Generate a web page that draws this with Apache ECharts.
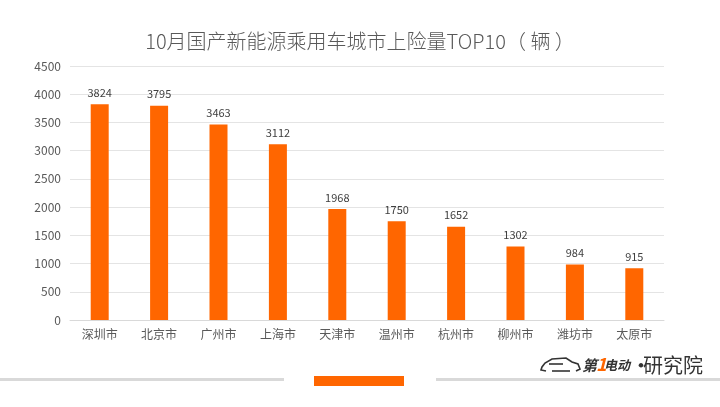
<!DOCTYPE html>
<html><head><meta charset="utf-8">
<script src="https://cdn.jsdelivr.net/npm/echarts@6/dist/echarts.min.js"></script>
<style>html,body{margin:0;padding:0;background:#fff}#c{width:720px;height:407px}</style>
</head><body><div id="c"></div>
<script>
const titleText = '10月国产新能源乘用车城市上险量TOP10（ 辆 ）';
const cities = ['深圳市','北京市','广州市','上海市','天津市','温州市','杭州市','柳州市','潍坊市','太原市'];
const values = [3824,3795,3463,3112,1968,1750,1652,1302,984,915];
const yTicks = [0,500,1000,1500,2000,2500,3000,3500,4000,4500];

const FONT = '"Noto Sans CJK SC","Microsoft YaHei",sans-serif';
const chart = echarts.init(document.getElementById('c'), null, {renderer:'canvas'});
chart.setOption({
  backgroundColor:'#fff',
  animation:false,
  title:{text:titleText,left:'center',top:26,textStyle:{fontFamily:FONT,fontSize:20,fontWeight:300,color:'#595959'}},
  grid:{left:70,right:56,top:66,bottom:87},
  xAxis:{type:'category',data:cities,
    axisLine:{lineStyle:{color:'#d9d9d9'}},axisTick:{show:false},
    axisLabel:{fontFamily:FONT,fontSize:12,color:'#595959',margin:8}},
  yAxis:{type:'value',min:yTicks[0],max:yTicks[yTicks.length-1],interval:500,
    axisLine:{show:false},axisTick:{show:false},
    splitLine:{lineStyle:{color:'#e4e4e4'}},
    axisLabel:{fontFamily:FONT,fontSize:12,color:'#595959',margin:9,formatter:v=>String(v)}},
  series:[{type:'bar',data:values,barWidth:18,
    itemStyle:{color:'#FF6600'},
    label:{show:true,position:'top',fontFamily:FONT,fontSize:11,color:'#404040',distance:6}}],
  graphic:[
    {type:'rect',shape:{x:0,y:378,width:284,height:3},style:{fill:'#d9d9d9'},silent:true},
    {type:'rect',shape:{x:436,y:378,width:284,height:3},style:{fill:'#d9d9d9'},silent:true},
    {type:'rect',shape:{x:314,y:376,width:90,height:10},style:{fill:'#FF6600'},silent:true},
    {type:'polyline',shape:{points:[[546,371],[541,370],[542,367],[545,363],[552,359],[566,358],[572,362],[578,364],[580,369],[576,371]]},
      style:{fill:'none',stroke:'#333',lineWidth:1.6},silent:true},
    {type:'line',shape:{x1:552,y1:371,x2:570,y2:371},style:{stroke:'#333',lineWidth:1.6},silent:true},
    {type:'line',shape:{x1:549,y1:364,x2:563,y2:364},style:{stroke:'#333',lineWidth:1.6},silent:true},
    {type:'text',style:{text:'第',x:582,y:365,fontFamily:FONT,fontSize:15,fontWeight:'bold',fontStyle:'italic',fill:'#333',textVerticalAlign:'middle'},silent:true},
    {type:'text',style:{text:'1',x:596,y:364,fontFamily:FONT,fontSize:18,fontWeight:'bold',fontStyle:'italic',fill:'#FF6600',textVerticalAlign:'middle'},silent:true},
    {type:'text',style:{text:'电动',x:604,y:365,fontFamily:FONT,fontSize:13,fontWeight:'bold',fontStyle:'italic',fill:'#333',textVerticalAlign:'middle'},silent:true},
    {type:'text',style:{text:'·',x:632,y:365,fontFamily:FONT,fontSize:18,fontWeight:'bold',fill:'#333',textVerticalAlign:'middle'},silent:true},
    {type:'text',style:{text:'研究院',x:643,y:365,fontFamily:FONT,fontSize:20,fill:'#333',textVerticalAlign:'middle'},silent:true}
  ]
});
</script></body></html>
